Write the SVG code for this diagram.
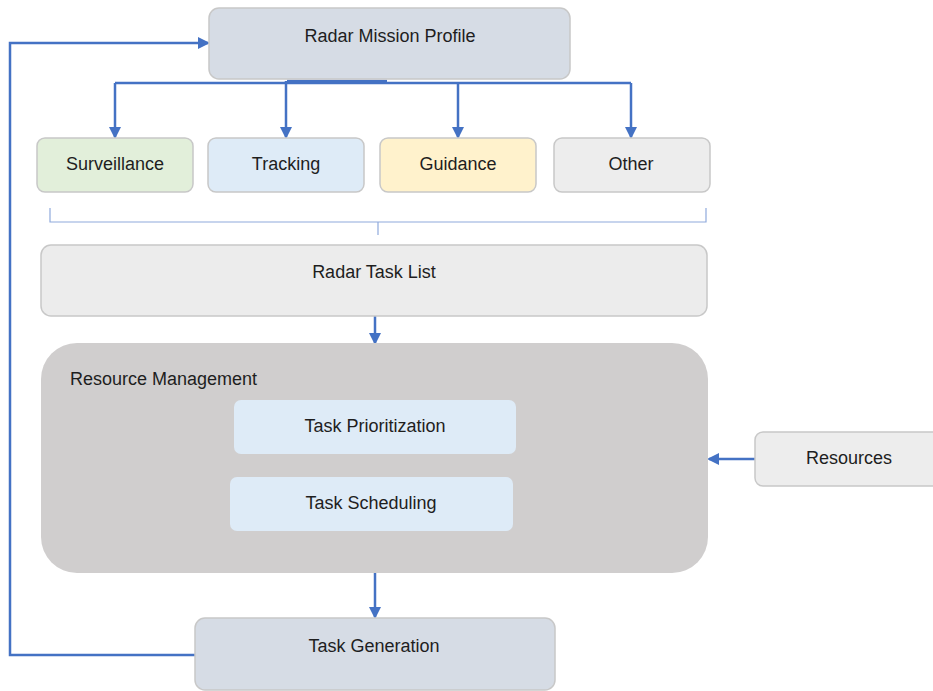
<svg xmlns="http://www.w3.org/2000/svg" width="933" height="691" viewBox="0 0 933 691">
<defs>
<marker id="ah" markerWidth="12" markerHeight="12" refX="10" refY="6" orient="auto" markerUnits="userSpaceOnUse">
<path d="M0,0 L12,6 L0,12 z" fill="#4472c4"/>
</marker>
<style>
.box{stroke:#c8c8c8;stroke-width:1.5}
.t{font-family:"Liberation Sans",Arial,sans-serif;font-size:18px;fill:#1e1e1e;text-anchor:middle;dominant-baseline:central}
.c{fill:none;stroke:#4472c4;stroke-width:2.5}
</style>
</defs>
<rect width="933" height="691" fill="#ffffff"/>
<g id="connectors">
<path class="c" d="M115,83 L631,83"/>
<path class="c" d="M287,81 L387,81" stroke-width="4"/>
<path class="c" d="M115,83 L115,137" marker-end="url(#ah)"/>
<path class="c" d="M286,81 L286,137" marker-end="url(#ah)"/>
<path class="c" d="M458,83 L458,137" marker-end="url(#ah)"/>
<path class="c" d="M631,83 L631,137" marker-end="url(#ah)"/>
<path d="M50,208 L50,222 L706,222 L706,208 M378,222 L378,235" fill="none" stroke="#8faadc" stroke-width="1.2"/>
<path class="c" d="M375,316 L375,343" marker-end="url(#ah)"/>
<path class="c" d="M755,459 L709,459" marker-end="url(#ah)"/>
<path class="c" d="M375,573 L375,617" marker-end="url(#ah)"/>
<path class="c" d="M195,655 L10,655 L10,43 L208,43" marker-end="url(#ah)"/>
</g>
<g id="mission">
<rect class="box" x="209" y="8" width="361" height="71" rx="10" fill="#d6dce5"/>
<text class="t" x="390" y="36">Radar Mission Profile</text>
</g>
<g id="surveillance">
<rect class="box" x="37" y="138" width="156" height="54" rx="8" fill="#e2efda"/>
<text class="t" x="115" y="164">Surveillance</text>
</g>
<g id="tracking">
<rect class="box" x="208" y="138" width="156" height="54" rx="8" fill="#deebf7" stroke="#deebf7"/>
<text class="t" x="286" y="164">Tracking</text>
</g>
<g id="guidance">
<rect class="box" x="380" y="138" width="156" height="54" rx="8" fill="#fff2cc"/>
<text class="t" x="458" y="164">Guidance</text>
</g>
<g id="other">
<rect class="box" x="554" y="138" width="156" height="54" rx="8" fill="#ededed"/>
<text class="t" x="631" y="164">Other</text>
</g>
<g id="tasklist">
<rect class="box" x="41" y="245" width="666" height="71" rx="10" fill="#ececec"/>
<text class="t" x="374" y="272">Radar Task List</text>
</g>
<g id="resmgmt">
<rect x="41" y="343" width="667" height="230" rx="36" fill="#d0cece"/>
<text class="t" x="70" y="379" style="text-anchor:start">Resource Management</text>
</g>
<g id="prioritization">
<rect x="234" y="400" width="282" height="54" rx="7" fill="#deebf7"/>
<text class="t" x="375" y="426">Task Prioritization</text>
</g>
<g id="scheduling">
<rect x="230" y="477" width="283" height="54" rx="7" fill="#deebf7"/>
<text class="t" x="371" y="503">Task Scheduling</text>
</g>
<g id="resources">
<rect class="box" x="755" y="432" width="190" height="54" rx="8" fill="#ededed"/>
<text class="t" x="849" y="458">Resources</text>
</g>
<g id="generation">
<rect class="box" x="195" y="618" width="360" height="72" rx="10" fill="#d6dce5"/>
<text class="t" x="374" y="646">Task Generation</text>
</g>
</svg>
